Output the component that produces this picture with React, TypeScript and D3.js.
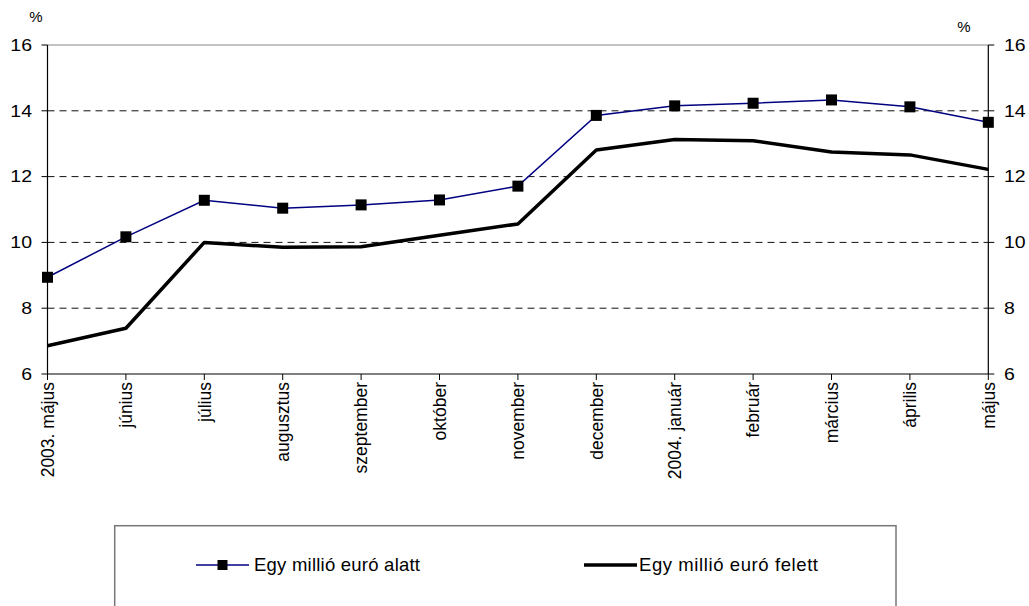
import React from "react";
import * as d3 from "d3";

// Months on the category axis
const months = [
  "2003. május", "június", "július", "augusztus", "szeptember", "október",
  "november", "december", "2004. január", "február", "március", "április", "május",
];

// Interest rates, %
const belowMillion = [8.94, 10.17, 11.28, 11.04, 11.14, 11.29, 11.71, 13.86, 14.15, 14.23, 14.33, 14.12, 13.65];
const aboveMillion = [6.86, 7.39, 10.0, 9.85, 9.87, 10.22, 10.56, 12.81, 13.13, 13.09, 12.75, 12.66, 12.22];

const yTicks = [6, 8, 10, 12, 14, 16];
const gridValues = [8, 10, 12, 14];

const seriesNames = ["Egy millió euró alatt", "Egy millió euró felett"];

const W = 1029;
const H = 606;
const left = 47.5;
const right = 988.3;
const top = 45;
const bottom = 374;

const FONT = "Arial, 'Liberation Sans', sans-serif";

export default function App() {
  const x = d3.scalePoint<string>().domain(months).range([left, right]);
  const y = d3.scaleLinear().domain([6, 16]).range([bottom, top]);

  const line = d3
    .line<number>()
    .x((_, i) => x(months[i]) as number)
    .y((d) => y(d));

  const marker = 11;

  return (
    <svg
      width={W}
      height={H}
      style={{ position: "absolute", left: 0, top: 0, background: "#fff" }}
      fontFamily={FONT}
    >
      {/* dashed grid */}
      {gridValues.map((v) => (
        <line
          key={v}
          x1={left}
          x2={right}
          y1={y(v)}
          y2={y(v)}
          stroke="#111"
          strokeWidth={1}
          strokeDasharray="7,5"
        />
      ))}
      {/* top frame line */}
      <line x1={left} x2={right} y1={y(16)} y2={y(16)} stroke="#888" strokeWidth={1.2} />

      {/* axes */}
      <line x1={left} x2={left} y1={top} y2={bottom} stroke="#000" strokeWidth={1.2} />
      <line x1={right} x2={right} y1={top} y2={bottom} stroke="#000" strokeWidth={1.2} />
      <line x1={left} x2={right} y1={bottom} y2={bottom} stroke="#000" strokeWidth={1.2} />

      {yTicks.map((v) => (
        <g key={v}>
          <line x1={left - 6} x2={left} y1={y(v)} y2={y(v)} stroke="#000" strokeWidth={1} />
          <line x1={right} x2={right + 6} y1={y(v)} y2={y(v)} stroke="#000" strokeWidth={1} />
          <text
            transform={`translate(32,${y(v)}) scale(1.18,1)`}
            dy="0.35em"
            textAnchor="end"
            fontSize={16.5}
            fill="#000"
          >
            {v}
          </text>
          <text
            transform={`translate(1004,${y(v)}) scale(1.18,1)`}
            dy="0.35em"
            textAnchor="start"
            fontSize={16.5}
            fill="#000"
          >
            {v}
          </text>
        </g>
      ))}

      <text x={36} y={22} textAnchor="middle" fontSize={15} fill="#000">%</text>
      <text x={964} y={32} textAnchor="middle" fontSize={15} fill="#000">%</text>

      {months.map((m) => {
        const px = x(m) as number;
        return (
          <g key={m}>
            <line x1={px} x2={px} y1={bottom} y2={bottom + 6} stroke="#000" strokeWidth={1} />
            <text
              transform={`translate(${px},${bottom + 8}) rotate(-90)`}
              dy="0.36em"
              textAnchor="end"
              fontSize={17.5}
              fill="#000"
            >
              {m}
            </text>
          </g>
        );
      })}

      {/* series */}
      <path d={line(aboveMillion) ?? ""} fill="none" stroke="#000" strokeWidth={3.5} strokeLinejoin="round" />
      <path d={line(belowMillion) ?? ""} fill="none" stroke="#000080" strokeWidth={1.5} />
      {belowMillion.map((v, i) => (
        <rect
          key={i}
          x={(x(months[i]) as number) - marker / 2}
          y={y(v) - marker / 2}
          width={marker}
          height={marker}
          fill="#000"
        />
      ))}

      {/* legend */}
      <rect x={114.7} y={525.7} width={781.3} height={100} fill="none" stroke="#777" strokeWidth={1.5} />
      <line x1={196} x2={249} y1={565} y2={565} stroke="#000080" strokeWidth={1.5} />
      <rect x={222.5 - 5} y={565 - 5} width={10} height={10} fill="#000" />
      <text x={254} y={565} dy="0.35em" fontSize={18.5} fill="#000" textLength={166} lengthAdjust="spacing">
        {seriesNames[0]}
      </text>
      <line x1={584} x2={637} y1={565} y2={565} stroke="#000" strokeWidth={3.5} />
      <text x={639} y={565} dy="0.35em" fontSize={18.5} fill="#000" textLength={179} lengthAdjust="spacing">
        {seriesNames[1]}
      </text>
    </svg>
  );
}
